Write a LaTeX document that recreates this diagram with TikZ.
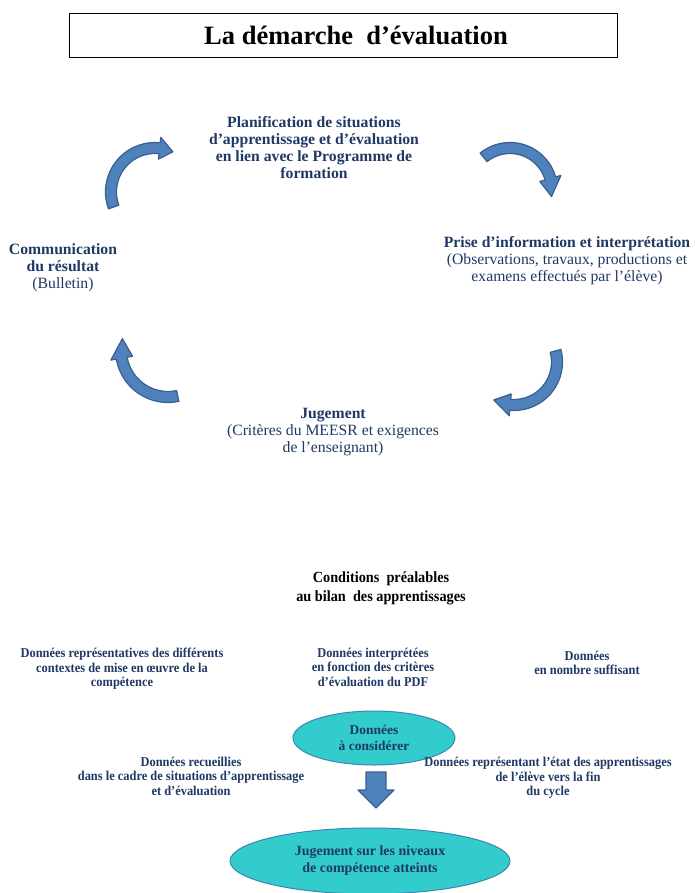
\documentclass[tikz,border=0pt]{standalone}
\usepackage{fontspec}
\setmainfont{Liberation Serif}
\newfontfamily\narrowfont[FakeStretch=0.92, Ligatures=TeX]{Liberation Serif}
\usetikzlibrary{shapes.geometric}

\definecolor{navy}{HTML}{1F3864}
\definecolor{arrowblue}{HTML}{4F81BD}
\definecolor{arrowedge}{HTML}{3A5F8F}
\definecolor{turq}{HTML}{33CCCC}
\definecolor{turqedge}{HTML}{3C86B0}

% curved arrow: center x, center y, radius, tail angle, head base angle, tip angle
\newcommand{\cyclearrow}[6]{%
  \begin{scope}[shift={(#1,#2)}]
    \filldraw[arcarrow] (#4:#3+5.5) arc[start angle=#4, end angle=#5, radius=#3+5.5]
      -- (#5:#3+11) -- (#6:#3) -- (#5:#3-11) -- (#5:#3-5.5)
      arc[start angle=#5, end angle=#4, radius=#3-5.5] -- cycle;
  \end{scope}}

\tikzset{
  cyclelabel/.style={align=center, text=navy, inner sep=0pt, font=\fontsize{15.7}{17}\selectfont},
  smalllabel/.style={align=center, text=navy, inner sep=0pt, font=\narrowfont\bfseries\fontsize{13.5}{14.5}\selectfont},
  bubble/.style={ellipse, draw=turqedge, fill=turq, line width=1pt, inner sep=0pt, align=center, text=navy,
    font=\bfseries\fontsize{13.5}{16}\selectfont},
  arcarrow/.style={fill=arrowblue, draw=arrowedge, line width=1.2pt, line join=round},
}

\begin{document}
\begin{tikzpicture}[x=1pt,y=1pt]
\useasboundingbox (0,0) rectangle (694,-893);

% title
\node[draw, line width=0.8pt, minimum width=548, minimum height=44, inner sep=0pt] (cadre) at (343,-35) {};
\node[font=\bfseries\fontsize{26.5}{28}\selectfont, inner sep=0pt] (titre) at (356,-35) {La démarche\ \ d'évaluation};

% the cycle
\node[cyclelabel, font=\bfseries\fontsize{15.7}{17}\selectfont] (plan) at (314,-148)
  {Planification de situations\\ d'apprentissage et d'évaluation\\ en lien avec le Programme de\\ formation};
\node[cyclelabel] (prise) at (567,-261)
  {\textbf{Prise d'information et interprétation}\\ (Observations, travaux, productions et\\ examens effectués par l'élève)};
\node[cyclelabel] (jug) at (333,-432)
  {\textbf{Jugement}\\ (Critères du MEESR et exigences\\ de l'enseignant)};
\node[cyclelabel] (comm) at (63,-268)
  {\textbf{Communication}\\ \textbf{du résultat}\\ (Bulletin)};

\cyclearrow{155}{-192}{44}{200}{84}{66}
\cyclearrow{510}{-190}{42}{129}{16}{-9}
\cyclearrow{514}{-362}{43}{15}{-95}{-118}
\cyclearrow{168}{-350}{47}{282}{190}{166}

% conditions
\node[smalllabel, text=black, font=\narrowfont\bfseries\fontsize{15.5}{19}\selectfont] (cond) at (381,-588)
  {Conditions\ \ préalables\\ au bilan\ \ des apprentissages};
\node[smalllabel] (repr) at (122,-669)
  {Données représentatives des différents\\ contextes de mise en œuvre de la\\ compétence};
\node[smalllabel] (interp) at (373,-667)
  {Données interprétées\\ en fonction des critères\\ d'évaluation du PDF};
\node[smalllabel] (nombre) at (587,-663)
  {Données\\ en nombre suffisant};

\node[bubble, minimum width=162, minimum height=54] (donnees) at (374,-738)
  {Données\\ à considérer};
\node[smalllabel] (recueil) at (191,-776)
  {Données recueillies\\ dans le cadre de situations d'apprentissage\\ et d'évaluation};
\node[smalllabel] (etat) at (548,-778)
  {Données représentant l'état des apprentissages\\ de l'élève vers la fin\\ du cycle};

\node[bubble, minimum width=280, minimum height=66, font=\bfseries\fontsize{14}{17}\selectfont] (niveaux) at (370,-861)
  {Jugement sur les niveaux\\ de compétence atteints};

% block arrow down
\filldraw[arcarrow] (366,-772) -- (386,-772) -- (386,-790) -- (394,-790) -- (376,-808)
  -- (358,-790) -- (366,-790) -- cycle;

\end{tikzpicture}
\end{document}
